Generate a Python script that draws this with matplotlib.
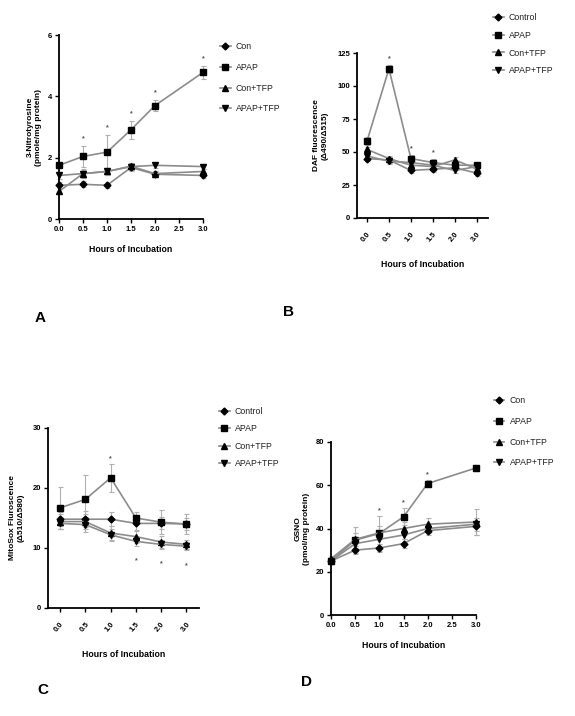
import matplotlib
matplotlib.use("Agg")
import matplotlib.pyplot as plt
import numpy as np

plt.rcParams['font.family'] = ['Liberation Sans Narrow', 'Liberation Sans', 'DejaVu Sans']
plt.rcParams['font.weight'] = 'bold'

# ---------------- data ----------------
hours_A = [0.0, 0.5, 1.0, 1.5, 2.0, 3.0]
A_labels = ["Con", "APAP", "Con+TFP", "APAP+TFP"]
A_con = [1.10, 1.13, 1.10, 1.68, 1.46, 1.42]
A_apap = [1.75, 2.04, 2.18, 2.91, 3.70, 4.78]
A_contfp = [0.90, 1.48, 1.55, 1.72, 1.48, 1.55]
A_apaptfp = [1.42, 1.48, 1.55, 1.71, 1.75, 1.71]
A_con_err = [0.10, 0.10, 0.08, 0.12, 0.10, 0.08]
A_apap_err = [0.10, 0.35, 0.55, 0.30, 0.18, 0.20]
A_contfp_err = [0.10, 0.15, 0.12, 0.12, 0.08, 0.08]
A_apaptfp_err = [0.10, 0.12, 0.10, 0.10, 0.08, 0.08]
A_star_hours = [0.5, 1.0, 1.5, 2.0, 3.0]
A_xticks = [0.0, 0.5, 1.0, 1.5, 2.0, 2.5, 3.0]
A_yticks = [0, 2, 4, 6]

B_cats = ["0.0", "0.5", "1.0", "1.5", "2.0", "3.0"]
B_labels = ["Control", "APAP", "Con+TFP", "APAP+TFP"]
B_con = [45, 44, 36, 37, 38, 34]
B_apap = [58, 113, 45, 42, 40, 40]
B_contfp = [52, 45, 40, 39, 44, 37]
B_apaptfp = [47, 43, 42, 40, 36, 39]
B_err = [2, 2, 2, 2, 2, 2]
B_apap_err = [3, 3, 3, 3, 2, 2]
B_star_idx = [1, 2, 3]
B_yticks = [0, 25, 50, 75, 100, 125]

C_cats = ["0.0", "0.5", "1.0", "1.5", "2.0", "3.0"]
C_labels = ["Control", "APAP", "Con+TFP", "APAP+TFP"]
C_con = [14.8, 14.8, 14.8, 14.1, 14.1, 14.0]
C_apap = [16.7, 18.1, 21.7, 15.0, 14.3, 14.0]
C_contfp = [14.4, 14.4, 12.5, 11.9, 11.0, 10.6]
C_apaptfp = [14.1, 13.9, 12.2, 11.1, 10.6, 10.3]
C_con_err = [1.2, 1.3, 1.2, 1.1, 1.0, 1.0]
C_apap_err = [3.5, 4.0, 2.3, 1.0, 2.0, 1.6]
C_contfp_err = [1.2, 1.3, 1.2, 1.0, 1.0, 0.8]
C_apaptfp_err = [1.0, 1.2, 1.0, 0.8, 0.8, 0.7]
C_star_up = [2]
C_star_down = [3, 4, 5]
C_yticks = [0, 10, 20, 30]

hours_D = [0.0, 0.5, 1.0, 1.5, 2.0, 3.0]
D_labels = ["Con", "APAP", "Con+TFP", "APAP+TFP"]
D_con = [25, 30, 31, 33, 39, 41]
D_apap = [25, 34.6, 37.7, 45.4, 60.8, 68.0]
D_contfp = [26, 35, 38, 40, 42, 43]
D_apaptfp = [25, 33, 35, 37, 40, 42]
D_con_err = [1.5, 2, 2, 2, 2, 4]
D_apap_err = [1.5, 6, 8, 4, 1.5, 1.5]
D_contfp_err = [1.5, 3, 3, 3, 3, 6]
D_apaptfp_err = [1.5, 2, 2, 2, 2, 3]
D_star_hours = [1.0, 1.5, 2.0]
D_xticks = [0.0, 0.5, 1.0, 1.5, 2.0, 2.5, 3.0]
D_yticks = [0, 20, 40, 60, 80]

markers = ['D', 's', '^', 'v']
msizes = [3.5, 4.2, 4.0, 4.0]
LINE = '#8c8c8c'
ERR = '#b0b0b0'

fig = plt.figure(figsize=(5.75, 7.16), dpi=100)

def style(ax):
    for s in ['top', 'right']:
        ax.spines[s].set_visible(False)
    for s in ['left', 'bottom']:
        ax.spines[s].set_linewidth(1.3)
    ax.tick_params(axis='both', which='major', direction='out', length=3, width=1.0,
                   labelsize=5.5, pad=2)
    for lab in ax.get_xticklabels() + ax.get_yticklabels():
        lab.set_fontweight('bold')

def draw_series(ax, x, ys, errs, labels):
    handles = []
    for y, e, lab, m, ms in zip(ys, errs, labels, markers, msizes):
        ax.errorbar(x, y, yerr=e, fmt='none', ecolor=ERR, elinewidth=0.8,
                    capsize=1.8, capthick=0.8, clip_on=False, zorder=2)
        h, = ax.plot(x, y, color=LINE, lw=1.2, marker=m, ms=ms,
                     mfc='black', mec='black', clip_on=False, zorder=3, label=lab)
        handles.append(h)
    return handles

def legend(ax, handles, labels, x, y, spacing):
    from matplotlib.lines import Line2D
    hs = [Line2D([0], [0], color=LINE, lw=1.2, marker=m, ms=ms, mfc='black', mec='black')
          for m, ms in zip(markers, msizes)]
    leg = ax.legend(hs, labels, loc='upper left', bbox_to_anchor=(x, y),
                    bbox_transform=fig.transFigure, frameon=False, fontsize=6.3,
                    handlelength=1.2, handletextpad=0.6, labelspacing=spacing,
                    borderaxespad=0, borderpad=0)
    for t in leg.get_texts():
        t.set_fontweight('normal')
        t.set_color('#222222')

# ---------------- Panel A ----------------
axA = fig.add_axes([59/575, 1-219/716, 144/575, 184/716])
hA = draw_series(axA, hours_A, [A_con, A_apap, A_contfp, A_apaptfp],
                 [A_con_err, A_apap_err, A_contfp_err, A_apaptfp_err], A_labels)
axA.set_xlim(0, 3)
axA.set_ylim(0, 6)
axA.set_xticks(A_xticks)
axA.set_xticklabels([f"{v:.1f}" for v in A_xticks])
axA.set_yticks(A_yticks)
style(axA)
axA.set_xlabel("Hours of Incubation", fontsize=6.3, fontweight='bold', labelpad=9)
axA.set_ylabel("3-Nitrotyrosine\n(pmole/mg protein)", fontsize=6.0, fontweight='bold',
               labelpad=4, linespacing=1.3)
for h in A_star_hours:
    i = hours_A.index(h)
    axA.text(h, A_apap[i] + A_apap_err[i] + 0.12, "*", ha='center', va='bottom',
             fontsize=5, color='#555555')
legend(axA, hA, A_labels, 220/575, 1-42/716, 1.35)

# ---------------- Panel B ----------------
axB = fig.add_axes([357/575, 1-218/716, 131/575, 165/716])
xB = np.arange(len(B_cats))
hB = draw_series(axB, xB, [B_con, B_apap, B_contfp, B_apaptfp],
                 [B_err, B_apap_err, B_err, B_err], B_labels)
axB.set_xlim(-0.45, 5.5)
axB.set_ylim(0, 125)
axB.set_xticks(xB)
axB.set_xticklabels(B_cats, rotation=50, ha='right', rotation_mode='anchor')
axB.set_yticks(B_yticks)
style(axB)
axB.tick_params(axis='x', pad=6)
axB.set_xlabel("Hours of Incubation", fontsize=6.3, fontweight='bold', labelpad=12)
axB.set_ylabel("DAF fluorescence\n(Δ490/Δ515)", fontsize=6.0, fontweight='bold',
               labelpad=6, linespacing=1.3)
for i in B_star_idx:
    axB.text(xB[i], B_apap[i] + B_apap_err[i] + 2, "*", ha='center', va='bottom',
             fontsize=5, color='#555555')
legend(axB, hB, B_labels, 493/575, 1-13/716, 1.0)

# ---------------- Panel C ----------------
axC = fig.add_axes([48/575, 1-608/716, 151/575, 180/716])
xC = np.arange(len(C_cats))
hC = draw_series(axC, xC, [C_con, C_apap, C_contfp, C_apaptfp],
                 [C_con_err, C_apap_err, C_contfp_err, C_apaptfp_err], C_labels)
axC.set_xlim(-0.48, 5.5)
axC.set_ylim(0, 30)
axC.set_xticks(xC)
axC.set_xticklabels(C_cats, rotation=50, ha='right', rotation_mode='anchor')
axC.set_yticks(C_yticks)
style(axC)
axC.tick_params(axis='x', pad=6)
axC.set_xlabel("Hours of Incubation", fontsize=6.3, fontweight='bold', labelpad=12)
axC.set_ylabel("MitoSox Fluroscence\n(Δ510/Δ580)", fontsize=6.0, fontweight='bold',
               labelpad=6, linespacing=1.3)
for i in C_star_up:
    axC.text(xC[i], C_apap[i] + C_apap_err[i] + 0.3, "*", ha='center', va='bottom',
             fontsize=5, color='#555555')
for i in C_star_down:
    axC.text(xC[i], C_apaptfp[i] - 2.6, "*", ha='center', va='top',
             fontsize=5, color='#555555')
legend(axC, hC, C_labels, 219/575, 1-407/716, 0.95)

# ---------------- Panel D ----------------
axD = fig.add_axes([331/575, 1-615/716, 145/575, 173/716])
hD = draw_series(axD, hours_D, [D_con, D_apap, D_contfp, D_apaptfp],
                 [D_con_err, D_apap_err, D_contfp_err, D_apaptfp_err], D_labels)
axD.set_xlim(0, 3)
axD.set_ylim(0, 80)
axD.set_xticks(D_xticks)
axD.set_xticklabels([f"{v:.1f}" for v in D_xticks])
axD.set_yticks(D_yticks)
style(axD)
axD.set_xlabel("Hours of Incubation", fontsize=6.3, fontweight='bold', labelpad=9)
axD.set_ylabel("GSNO\n(pmol/mg protein)", fontsize=6.0, fontweight='bold',
               labelpad=4, linespacing=1.3)
for h in D_star_hours:
    i = hours_D.index(h)
    axD.text(h, D_apap[i] + D_apap_err[i] + 1, "*", ha='center', va='bottom',
             fontsize=5, color='#555555')
legend(axD, hD, D_labels, 494/575, 1-396/716, 1.35)

# ---------------- Panel letters ----------------
for lab, x, y in [("A", 40, 318), ("B", 289, 312), ("C", 43, 690), ("D", 307, 682)]:
    fig.text(x/575, 1-y/716, lab, ha='center', va='center', fontsize=11,
             fontweight='bold')

fig.savefig("out.png", dpi=100)
